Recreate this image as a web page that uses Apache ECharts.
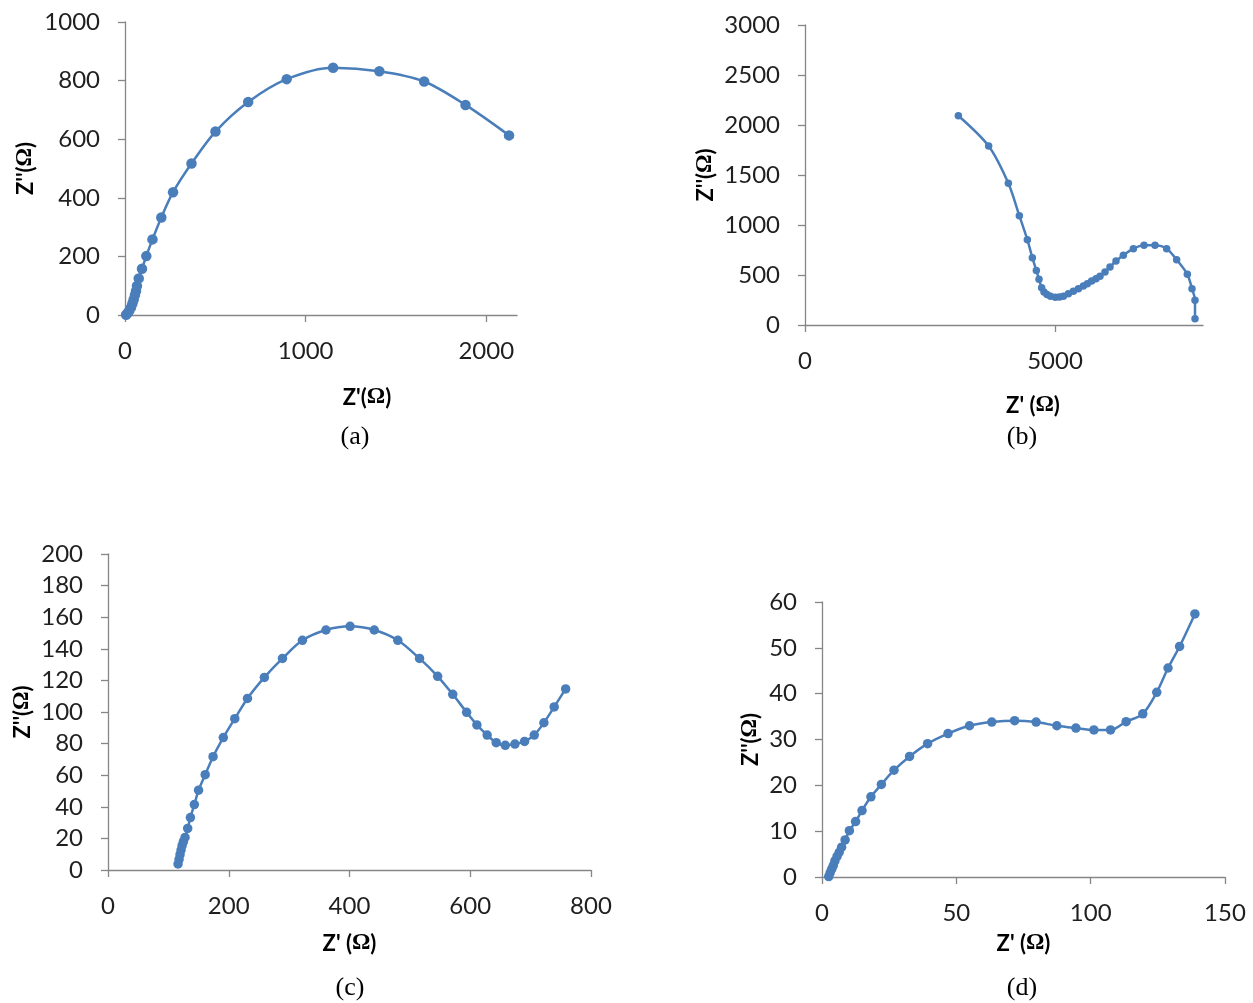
<!DOCTYPE html>
<html>
<head>
<meta charset="utf-8">
<script src="https://cdn.jsdelivr.net/npm/echarts@6/dist/echarts.min.js"></script>
<style>
  html, body { margin: 0; padding: 0; background: #fff; }
  #chart { width: 1253px; height: 1003px; }
</style>
</head>
<body>
<div id="chart"></div>
<script>
// (a) Z' / Z'' in ohm
const reA = [6, 15, 24, 33, 41, 48, 55, 61, 66, 76, 94, 118, 152, 201, 266, 368, 501, 682, 895, 1152, 1408, 1656, 1885, 2126];
const imA = [1, 7, 15, 26, 39, 53, 68, 82, 99, 125, 158, 201, 258, 333, 419, 517, 626, 727, 805, 844, 832, 797, 717, 613];

// (b)
const reB = [3067, 3673, 4067, 4287, 4447, 4547, 4627, 4680, 4733, 4780, 4840, 4910, 5007, 5090, 5167, 5267, 5367, 5467, 5567, 5647, 5733, 5820, 5900, 6000, 6100, 6220, 6367, 6567, 6780, 7000, 7233, 7433, 7647, 7740, 7800, 7800];
const imB = [2093, 1790, 1417, 1093, 853, 673, 545, 457, 373, 330, 305, 287, 277, 280, 287, 313, 337, 363, 390, 413, 440, 463, 487, 530, 580, 640, 697, 763, 797, 797, 763, 653, 507, 363, 247, 63];

// (c)
const reC = [116, 117.7, 119.3, 121, 122.7, 124.9, 127.6, 132, 136.5, 143, 150, 161, 174, 191, 210, 231, 259, 289, 322, 361, 401, 441, 480, 516, 546, 571, 594, 611, 628, 643, 658, 674, 690, 706, 722, 739, 758];
const imC = [3.8, 6.7, 9.7, 12.6, 15.4, 17.9, 20.6, 26.3, 33.2, 41.4, 50.5, 60.3, 71.7, 83.8, 95.8, 108.6, 121.9, 133.9, 145.4, 151.9, 154.2, 151.9, 145.4, 133.9, 122.6, 111.2, 99.8, 91.8, 85.4, 80.6, 78.9, 79.7, 81.4, 85.4, 93.2, 103.2, 114.6];

// (d)
const reD = [2.5, 3.0, 3.6, 4.2, 4.8, 5.6, 6.4, 7.3, 8.6, 10.2, 12.5, 14.9, 18.2, 22.1, 26.8, 32.6, 39.3, 46.9, 54.9, 63.2, 71.7, 79.7, 87.4, 94.5, 101.2, 107.4, 113.2, 119.4, 124.6, 128.8, 133.1, 138.8];
const imD = [0.1, 0.9, 1.7, 2.5, 3.5, 4.5, 5.4, 6.5, 8.1, 10.1, 12.1, 14.5, 17.5, 20.2, 23.3, 26.3, 29.1, 31.3, 33.0, 33.8, 34.1, 33.8, 33.0, 32.5, 32.1, 32.1, 33.9, 35.6, 40.3, 45.6, 50.3, 57.4];

// axis ticks
const xTicksA = [0, 1000, 2000];
const xTicksB = [0, 5000];
const xTicksC = [0, 200, 400, 600, 800];
const xTicksD = [0, 50, 100, 150];
const yTicksA = [0, 200, 400, 600, 800, 1000];
const yTicksB = [0, 500, 1000, 1500, 2000, 2500, 3000];
const yTicksC = [0, 20, 40, 60, 80, 100, 120, 140, 160, 180, 200];
const yTicksD = [0, 10, 20, 30, 40, 50, 60];

const captions = ["(a)", "(b)", "(c)", "(d)"];
const xNames = ["Z'({o|Ω})", "Z' ({o|Ω})", "Z' ({o|Ω})", "Z' ({o|Ω})"];
const yName = "Z''({o|Ω})";

const BLUE = "#4a7ebb";
const AXIS = "#868686";
const LABEL_FONT = "Lato, 'Open Sans', sans-serif";

const panels = [
  { re: reA, im: imA, xTicks: xTicksA, yTicks: yTicksA, xMax: 2170,
    grid: { left: 125, top: 22, width: 392, height: 293 },
    xGap: 71, xShift: 92, yGap: 88, size: 10.5, cap: [355, 437] },
  { re: reB, im: imB, xTicks: xTicksB, yTicks: yTicksB, xMax: 7960,
    grid: { left: 805, top: 25, width: 398, height: 300 },
    xGap: 69, xShift: 58, yGap: 88, size: 7.5, cap: [1022, 437] },
  { re: reC, im: imC, xTicks: xTicksC, yTicks: yTicksC, xMax: 800,
    grid: { left: 108, top: 554, width: 483, height: 316 },
    xGap: 62, xShift: 0, yGap: 74, size: 9.5, cap: [350, 988] },
  { re: reD, im: imD, xTicks: xTicksD, yTicks: yTicksD, xMax: 150,
    grid: { left: 822, top: 602, width: 403, height: 275 },
    xGap: 55, xShift: 0, yGap: 60, size: 9.5, cap: [1022, 988] },
];

const nameStyle = (padding) => ({
  fontFamily: LABEL_FONT,
  fontWeight: "bold",
  fontSize: 22,
  color: "#000",
  padding,
  rich: {
    o: { fontFamily: "'Liberation Serif', serif", fontWeight: "bold", fontSize: 23, color: "#000" },
  },
});

const axisCommon = {
  type: "value",
  min: 0,
  axisLine: { show: true, onZero: false, lineStyle: { color: AXIS, width: 1.3 } },
  splitLine: { show: false },
};

const plain = (v) => String(v);

const chart = echarts.init(document.getElementById("chart"), null, { renderer: "canvas" });

chart.setOption({
  animation: false,
  backgroundColor: "#fff",
  grid: panels.map((p) => ({ ...p.grid, containLabel: false, outerBoundsMode: "none" })),
  xAxis: panels.map((p, i) => ({
    ...axisCommon,
    gridIndex: i,
    max: p.xMax,
    interval: p.xTicks[1] - p.xTicks[0],
    axisTick: { show: true, inside: false, length: 7, customValues: p.xTicks, lineStyle: { color: AXIS, width: 1.3 } },
    axisLabel: { margin: 24, fontSize: 24, fontFamily: LABEL_FONT, color: "#1f1f1f", customValues: p.xTicks, formatter: plain },
    name: xNames[i],
    nameLocation: "middle",
    nameGap: p.xGap,
    nameTextStyle: nameStyle([0, 0, 0, p.xShift]),
  })),
  yAxis: panels.map((p, i) => ({
    ...axisCommon,
    gridIndex: i,
    max: p.yTicks[p.yTicks.length - 1],
    interval: p.yTicks[1] - p.yTicks[0],
    axisTick: { show: true, inside: false, length: 7, lineStyle: { color: AXIS, width: 1.3 } },
    axisLabel: { margin: 25, fontSize: 24, fontFamily: LABEL_FONT, color: "#1f1f1f", formatter: plain },
    name: yName,
    nameLocation: "middle",
    nameGap: p.yGap,
    nameTextStyle: nameStyle(0),
  })),
  series: panels.map((p, i) => ({
    type: "line",
    xAxisIndex: i,
    yAxisIndex: i,
    data: p.re.map((x, k) => [x, p.im[k]]),
    smooth: 0.3,
    symbol: "circle",
    symbolSize: p.size,
    showSymbol: true,
    showAllSymbol: true,
    clip: false,
    lineStyle: { color: BLUE, width: 2.5 },
    itemStyle: { color: BLUE, borderWidth: 0 },
    emphasis: { disabled: true },
  })),
  graphic: panels.map((p, i) => ({
    type: "text",
    x: p.cap[0],
    y: p.cap[1],
    style: {
      text: captions[i],
      font: "26px 'Liberation Serif', serif",
      fill: "#000",
      align: "center",
      verticalAlign: "middle",
      textAlign: "center",
      textVerticalAlign: "middle",
    },
  })),
});
</script>
</body>
</html>
